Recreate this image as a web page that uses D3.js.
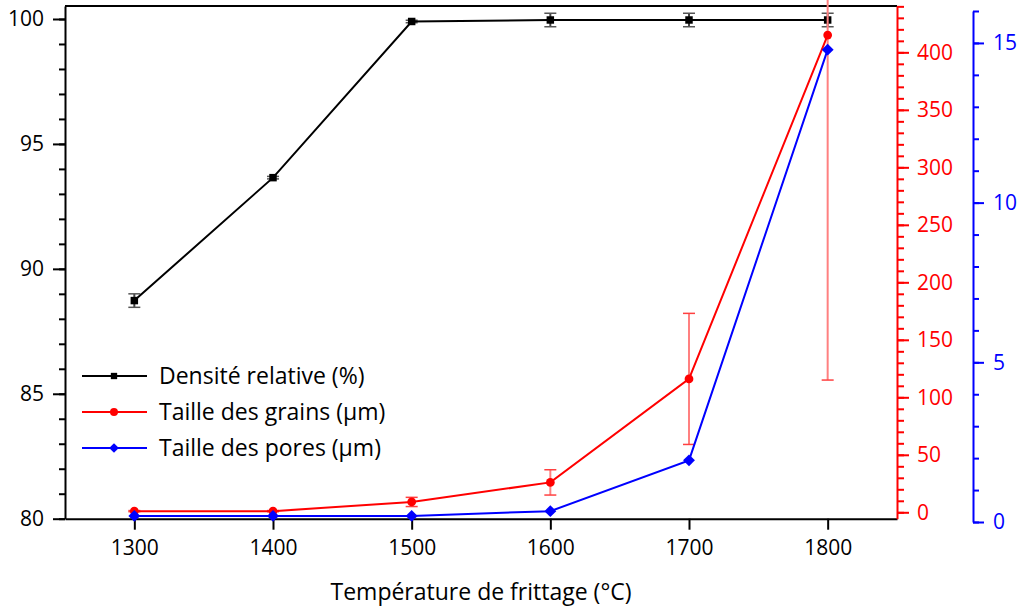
<!DOCTYPE html>
<html>
<head>
<meta charset="utf-8">
<script src="https://cdn.jsdelivr.net/npm/d3@7"></script>
<style>
  body { margin: 0; background: #fff; }
  text { font-family: "Open Sans", "Noto Sans", sans-serif; }
</style>
</head>
<body>
<svg width="1017" height="606"></svg>
<script>
// data
var temps = [1300, 1400, 1500, 1600, 1700, 1800];
var densite = [88.73, 93.65, 99.9, 99.96, 99.96, 99.96];
var densiteErr = [0.27, 0.05, 0.05, 0.27, 0.27, 0.27];
var grains = [1, 1, 9, 26, 116, 415];
var grainsErr = [0.5, 0.5, 4, 11, 57, 300];
var pores = [0.19, 0.19, 0.19, 0.34, 1.93, 14.79];

var xTicks = [1300, 1400, 1500, 1600, 1700, 1800];
var legendNames = ["Densité relative (%)", "Taille des grains (µm)", "Taille des pores (µm)"];

var svg = d3.select("svg");

var plotLeft = 65, plotRight = 897, plotTop = 6, plotBottom = 518.7;
var tickFont = 21, textFont = 23;

var x = d3.scaleLinear().domain([1250, 1850]).range([plotLeft, plotRight]);
var yL = d3.scaleLinear().domain([80, 100.52]).range([plotBottom, plotTop]);
var yR = d3.scaleLinear().domain([-5.57, 440.3]).range([plotBottom, plotTop]);
var yB = d3.scaleLinear().domain([0, 16]).range([522, 11]);
var blueX = 973;

// ---- axes ----
function styleAxis(g, color, fontSize) {
    g.selectAll("path, line").attr("stroke", color).attr("stroke-width", 2);
    g.selectAll("text").attr("fill", color).style("font-size", fontSize + "px");
}

// left minor + major
svg.append("g")
    .attr("transform", "translate(" + plotLeft + ",0)")
    .call(d3.axisLeft(yL).tickValues(d3.range(80, 101, 1)).tickSize(6).tickFormat(""))
    .call(function (g) { g.select(".domain").remove(); styleAxis(g, "#000", tickFont); });
svg.append("g")
    .attr("transform", "translate(" + plotLeft + ",0)")
    .call(d3.axisLeft(yL).tickValues([80, 85, 90, 95, 100]).tickSize(12).tickPadding(9).tickSizeOuter(0))
    .call(function (g) { styleAxis(g, "#000", tickFont); });

// bottom
svg.append("g")
    .attr("transform", "translate(0," + plotBottom + ")")
    .call(d3.axisBottom(x).tickValues(xTicks).tickSize(11).tickPadding(10).tickSizeOuter(0).tickFormat(d3.format("d")))
    .call(function (g) { styleAxis(g, "#000", tickFont); });

// top border
svg.append("line")
    .attr("x1", plotLeft).attr("x2", plotRight)
    .attr("y1", plotTop).attr("y2", plotTop)
    .attr("stroke", "#000").attr("stroke-width", 2);

// red right axis
svg.append("g")
    .attr("transform", "translate(" + plotRight + ",0)")
    .call(d3.axisRight(yR).tickValues(d3.range(0, 441, 10)).tickSize(7).tickFormat(""))
    .call(function (g) { g.select(".domain").remove(); styleAxis(g, "#ff0000", tickFont); });
svg.append("g")
    .attr("transform", "translate(" + plotRight + ",0)")
    .call(d3.axisRight(yR).tickValues(d3.range(0, 401, 50)).tickSize(12).tickPadding(8).tickSizeOuter(0))
    .call(function (g) { styleAxis(g, "#ff0000", tickFont); });

// blue right axis
svg.append("g")
    .attr("transform", "translate(" + blueX + ",0)")
    .call(d3.axisRight(yB).tickValues(d3.range(0, 17, 1)).tickSize(6).tickFormat(""))
    .call(function (g) { g.select(".domain").remove(); styleAxis(g, "#0000ff", tickFont); });
svg.append("g")
    .attr("transform", "translate(" + blueX + ",0)")
    .call(d3.axisRight(yB).tickValues([0, 5, 10, 15]).tickSize(11).tickPadding(9).tickSizeOuter(0))
    .call(function (g) { styleAxis(g, "#0000ff", tickFont); });

// x title
svg.append("text")
    .attr("x", (plotLeft + plotRight) / 2).attr("y", 600)
    .attr("text-anchor", "middle")
    .style("font-size", textFont + "px")
    .text("Température de frittage (°C)");

// ---- series ----
function errorBars(vals, errs, scale, color, capColor) {
    var g = svg.append("g");
    temps.forEach(function (t, i) {
        var cx = x(t), y1 = scale(vals[i] + errs[i]), y2 = scale(vals[i] - errs[i]);
        y1 = Math.max(y1, -5);
        g.append("line").attr("x1", cx).attr("x2", cx).attr("y1", y1).attr("y2", y2)
            .attr("stroke", color).attr("stroke-width", 2);
        [y1, y2].forEach(function (yy) {
            g.append("line").attr("x1", cx - 6).attr("x2", cx + 6).attr("y1", yy).attr("y2", yy)
                .attr("stroke", capColor).attr("stroke-width", 1.5);
        });
    });
}

function drawLine(vals, scale, color) {
    svg.append("path")
        .datum(vals)
        .attr("fill", "none")
        .attr("stroke", color)
        .attr("stroke-width", 2)
        .attr("d", d3.line().x(function (d, i) { return x(temps[i]); }).y(function (d) { return scale(d); }));
}

var symTypes = { square: d3.symbolSquare, circle: d3.symbolCircle, diamond: d3.symbolDiamond2 };

function drawMarkers(vals, scale, color, shape, size) {
    svg.append("g").selectAll("path")
        .data(vals)
        .enter()
        .append("path")
        .attr("transform", function (d, i) { return "translate(" + x(temps[i]) + "," + scale(d) + ")"; })
        .attr("d", d3.symbol().type(symTypes[shape]).size(size))
        .attr("fill", color);
}

errorBars(densite, densiteErr, yL, "#444", "#555");
drawLine(densite, yL, "#000");
drawMarkers(densite, yL, "#000", "square", 56);

errorBars(grains, grainsErr, yR, "#ff8080", "#ff4040");
drawLine(pores, yB, "#0000ff");
drawLine(grains, yR, "#ff0000");
drawMarkers(grains, yR, "#ff0000", "circle", 60);
drawMarkers(pores, yB, "#0000ff", "diamond", 90);

// ---- legend ----
var legendColors = ["#000", "#ff0000", "#0000ff"];
var legendShapes = ["square", "circle", "diamond"];
var legendSizes = [40, 50, 60];
var legend = svg.append("g");
legendNames.forEach(function (name, i) {
    var ly = 376 + i * 36;
    legend.append("line").attr("x1", 82).attr("x2", 147).attr("y1", ly).attr("y2", ly)
        .attr("stroke", legendColors[i]).attr("stroke-width", 2);
    legend.append("path").attr("transform", "translate(114," + ly + ")")
        .attr("d", d3.symbol().type(symTypes[legendShapes[i]]).size(legendSizes[i]))
        .attr("fill", legendColors[i]);
    legend.append("text").attr("x", 159).attr("y", ly + 8)
        .style("font-size", textFont + "px")
        .text(name);
});
</script>
</body>
</html>
